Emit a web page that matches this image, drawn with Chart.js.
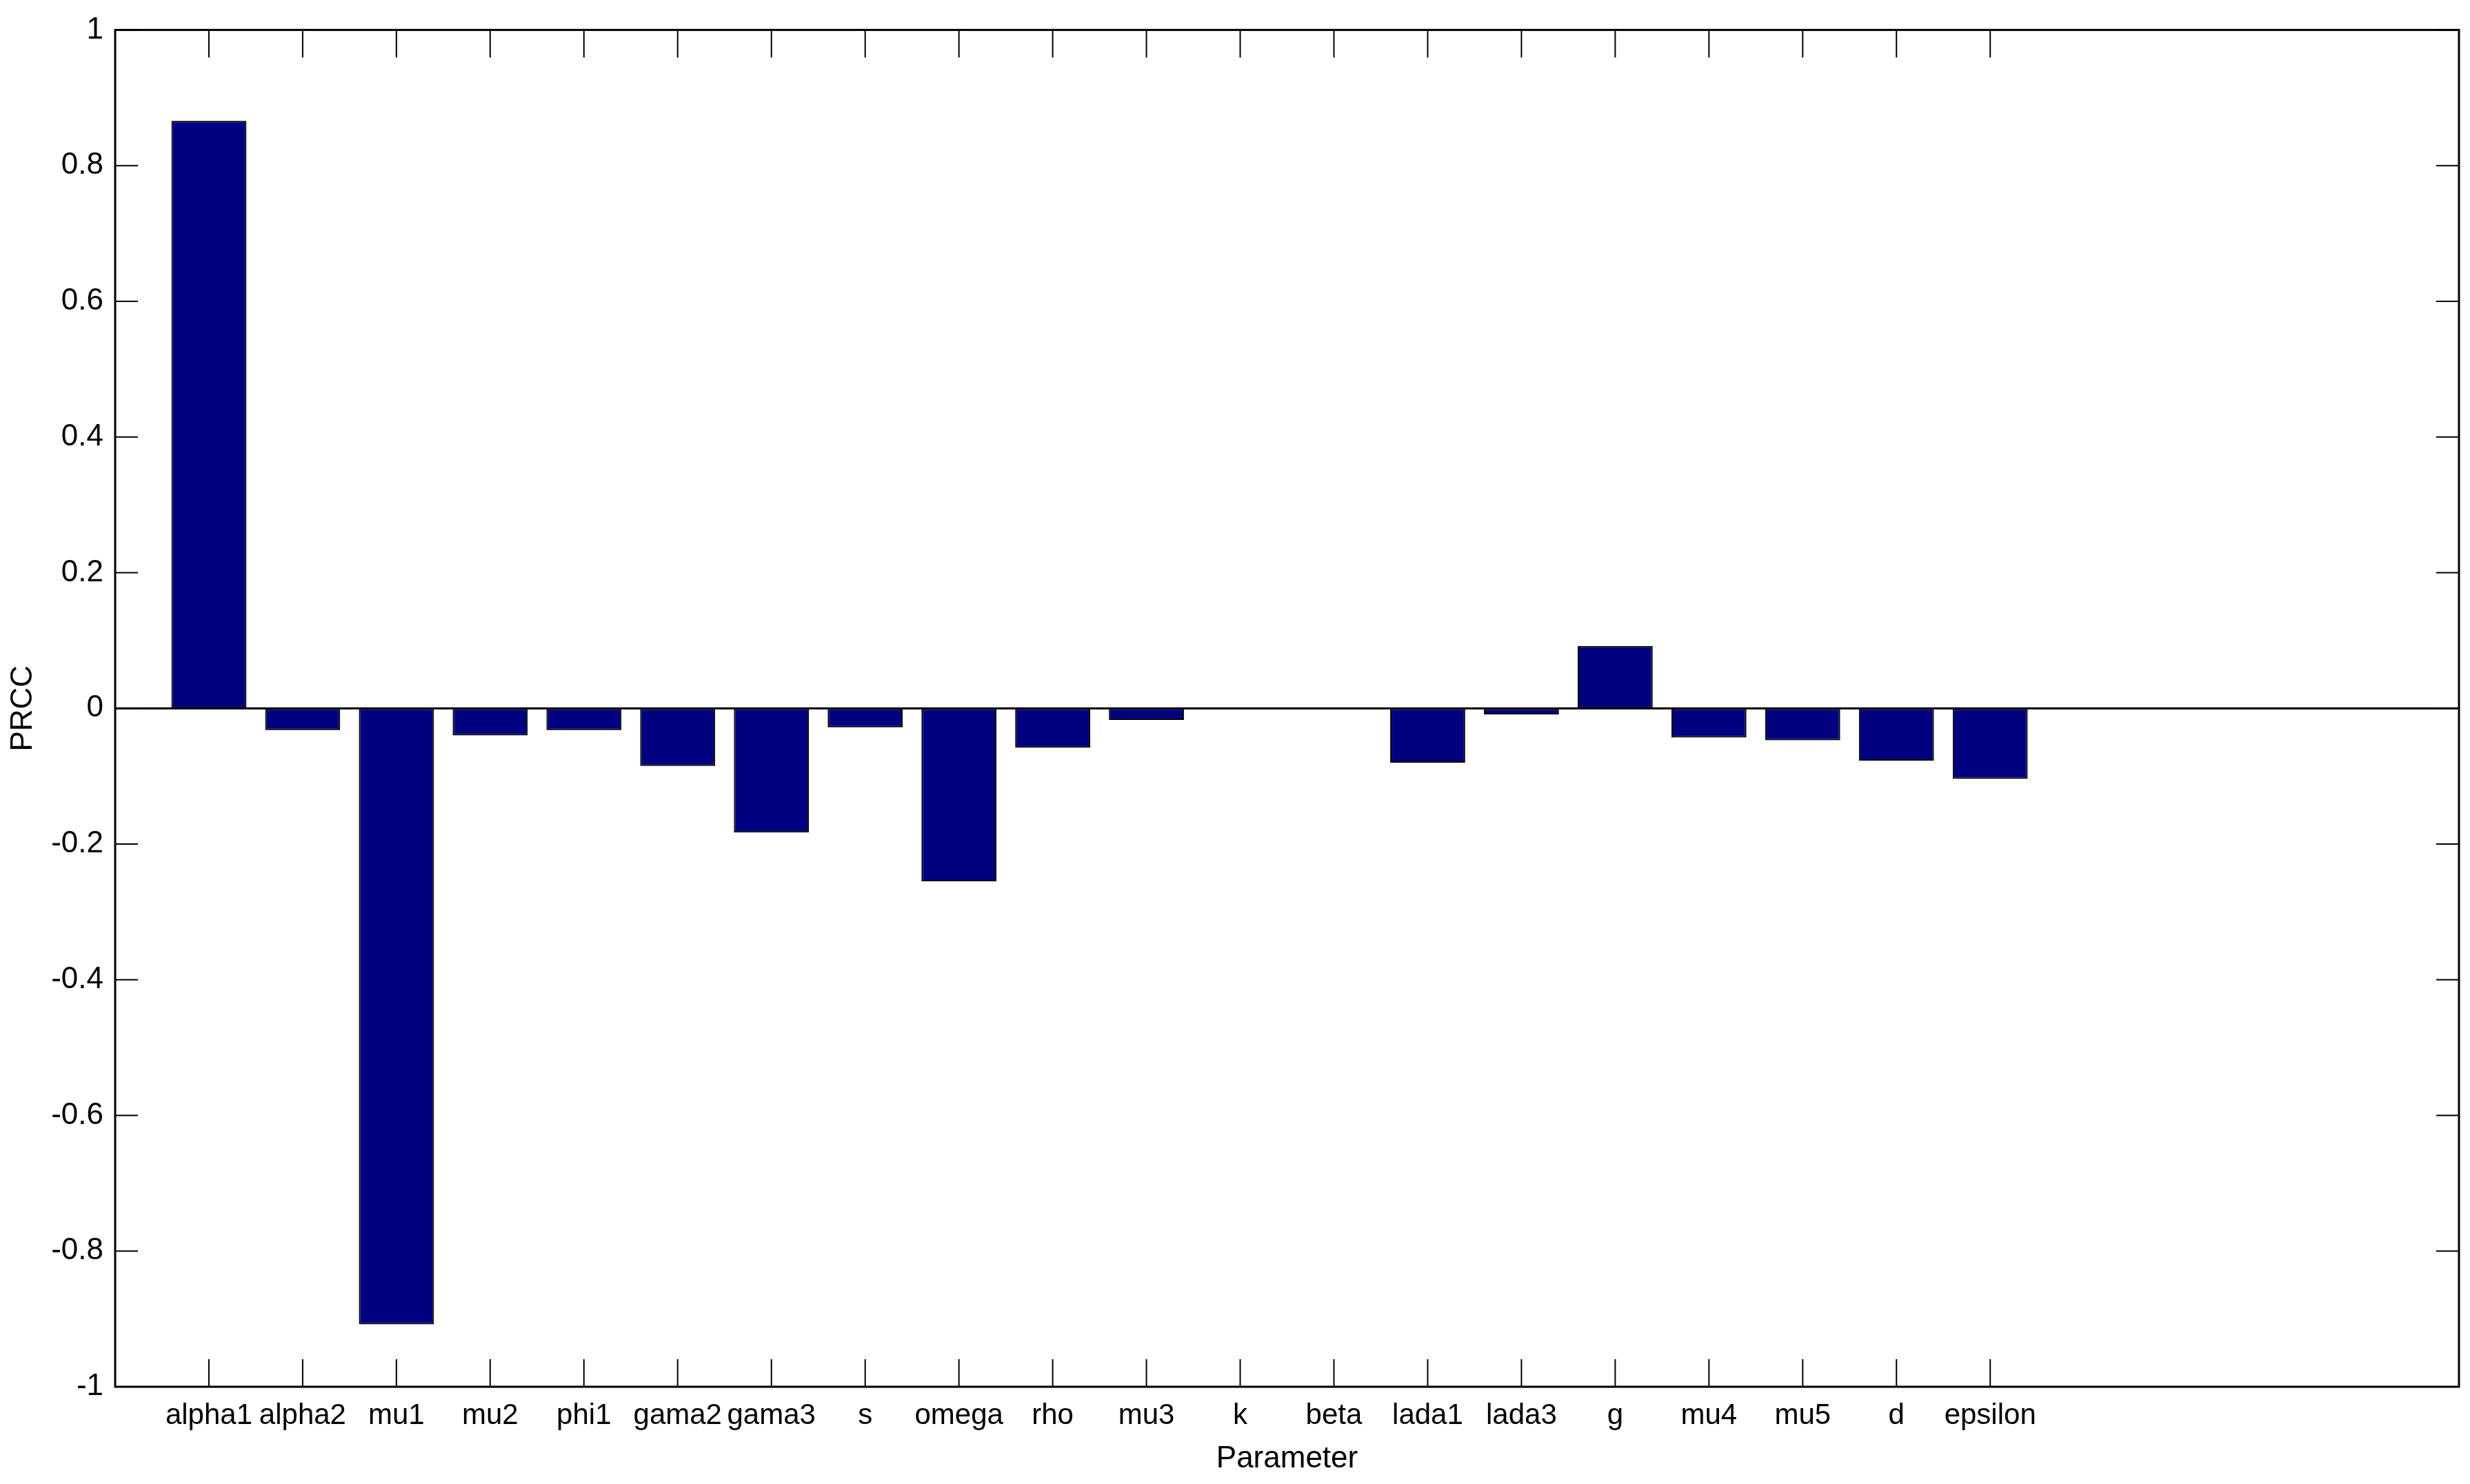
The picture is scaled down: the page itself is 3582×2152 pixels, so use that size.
<!DOCTYPE html>
<html>
<head>
<meta charset="utf-8">
<script src="https://cdn.jsdelivr.net/npm/chart.js@4/dist/chart.umd.min.js"></script>
<style>
  html, body { margin: 0; padding: 0; background: #fff; overflow: hidden; }
</style>
</head>
<body>
<canvas id="prccChart" width="3582" height="2152"></canvas>
<script>
// values
const parameters = ['alpha1','alpha2','mu1','mu2','phi1','gama2','gama3','s','omega','rho',
                    'mu3','k','beta','lada1','lada3','g','mu4','mu5','d','epsilon'];
const prcc = [0.866, -0.032, -0.908, -0.040, -0.032, -0.085, -0.183, -0.028, -0.255, -0.058,
              -0.017, 0, 0, -0.080, -0.009, 0.092, -0.043, -0.047, -0.077, -0.104];
const yTicks = [-1, -0.8, -0.6, -0.4, -0.2, 0, 0.2, 0.4, 0.6, 0.8, 1];
const yTickLabels = ['-1','-0.8','-0.6','-0.4','-0.2','0','0.2','0.4','0.6','0.8','1'];
const xLimits = [0, 25];

const FAMILY = '"Liberation Sans", Arial, sans-serif';
const FONT = { family: FAMILY, size: 44 };
const XFONT = { family: FAMILY, size: 42 };

// matlab style box, inward ticks and the zero baseline
const matlabAxes = {
  id: 'matlabAxes',
  afterDatasetsDraw(chart) {
    const { ctx, chartArea: a, scales: { x, y } } = chart;
    const line = (x1, y1, x2, y2) => { ctx.beginPath(); ctx.moveTo(x1, y1); ctx.lineTo(x2, y2); ctx.stroke(); };
    ctx.save();
    ctx.strokeStyle = '#000';
    ctx.lineWidth = 3;
    const y0 = y.getPixelForValue(0);
    line(a.left, y0, a.right, y0);
    ctx.lineWidth = 2;
    y.ticks.forEach(t => {
      const py = y.getPixelForValue(t.value);
      line(a.left, py, a.left + 33, py);
      line(a.right, py, a.right - 33, py);
    });
    x.ticks.forEach(t => {
      const px = x.getPixelForValue(t.value);
      line(px, a.bottom, px, a.bottom - 40);
      line(px, a.top, px, a.top + 40);
    });
    ctx.lineWidth = 3;
    ctx.strokeRect(a.left, a.top, a.right - a.left, a.bottom - a.top);
    ctx.restore();
  }
};

const ctx = document.getElementById('prccChart').getContext('2d');
new Chart(ctx, {
  type: 'bar',
  data: {
    datasets: [{
      label: 'PRCC',
      data: prcc.map((v, i) => ({ x: i + 1, y: v })),
      backgroundColor: '#000080',
      borderColor: '#000000',
      borderWidth: 2,
      borderSkipped: false,
      barPercentage: 0.8,
      categoryPercentage: 1
    }]
  },
  options: {
    responsive: false,
    animation: false,
    layout: { padding: { top: 36, right: 16, left: 0, bottom: 0 } },
    plugins: {
      legend: { display: false },
      tooltip: { enabled: false }
    },
    scales: {
      x: {
        type: 'linear',
        min: xLimits[0],
        max: xLimits[1],
        offset: false,
        grid: { display: false, drawTicks: false, offset: false },
        border: { display: false },
        afterBuildTicks: s => { s.ticks = parameters.map((p, i) => ({ value: i + 1 })); },
        afterFit: s => { s.height = 141; },
        ticks: {
          autoSkip: false,
          maxRotation: 0,
          padding: 17,
          color: '#000',
          font: XFONT,
          callback: v => parameters[v - 1]
        },
        title: {
          display: true,
          text: 'Parameter',
          color: '#000',
          font: FONT,
          padding: { top: 0, bottom: 10 }
        }
      },
      y: {
        min: -1,
        max: 1,
        grid: { display: false, drawTicks: false },
        border: { display: false },
        afterBuildTicks: s => { s.ticks = yTicks.map(v => ({ value: v })); },
        afterFit: s => { s.width = 167; },
        ticks: {
          padding: 17,
          color: '#000',
          font: FONT,
          callback: v => yTickLabels[yTicks.indexOf(v)]
        },
        title: {
          display: true,
          text: 'PRCC',
          color: '#000',
          font: FONT,
          padding: { top: 7, bottom: 0 }
        }
      }
    }
  },
  plugins: [matlabAxes]
});
</script>
</body>
</html>
